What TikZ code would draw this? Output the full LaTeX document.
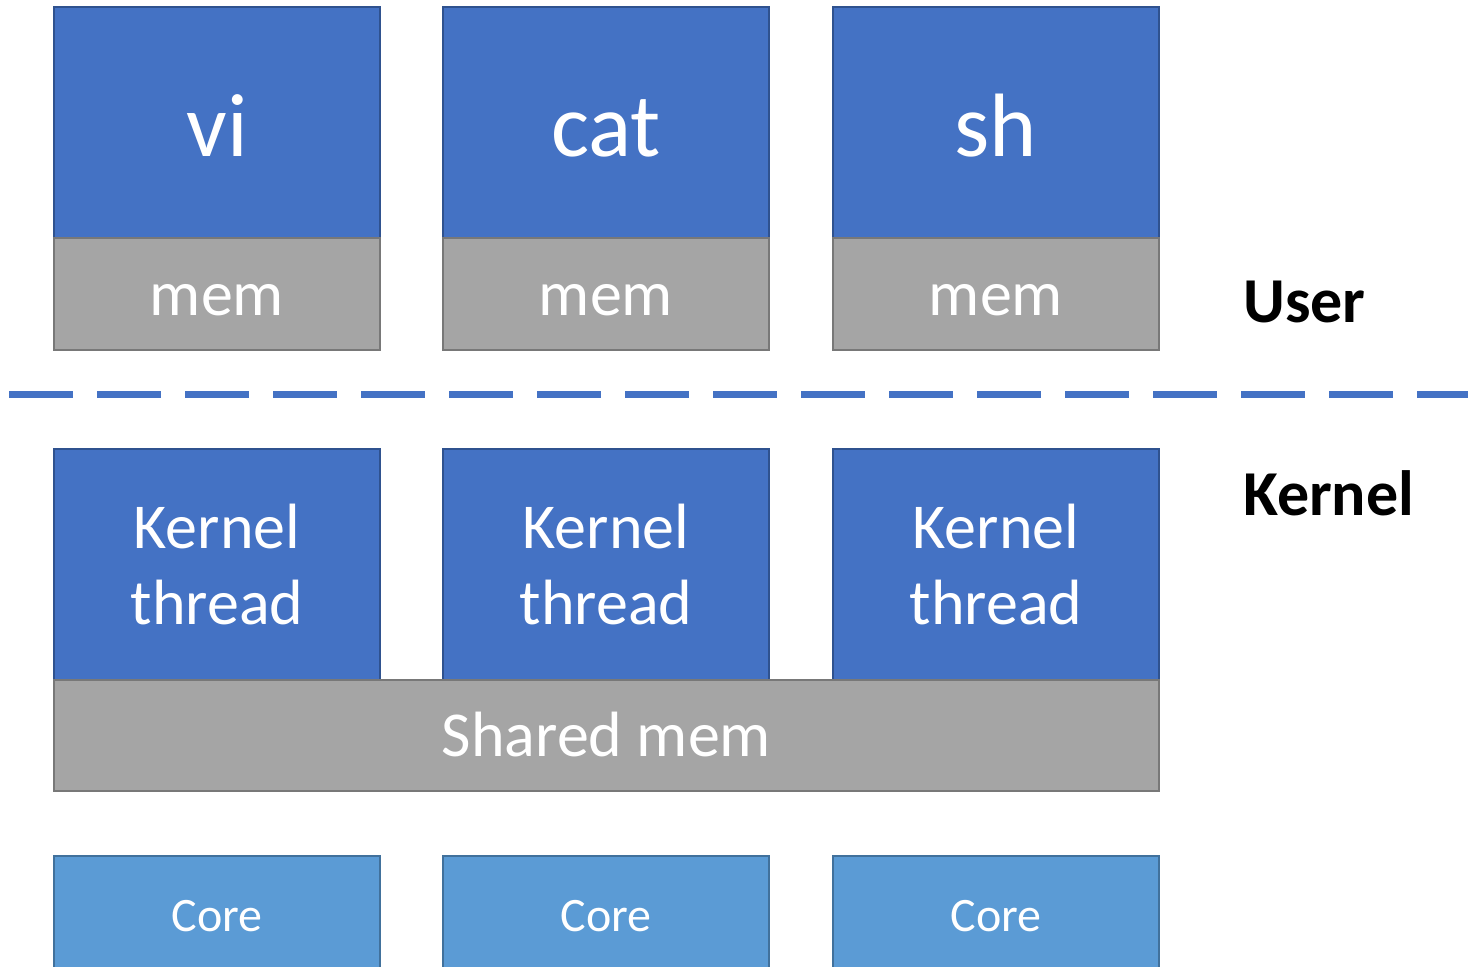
\documentclass[tikz,border=0pt]{standalone}
\usepackage{fontspec}
\setmainfont{Carlito}
\definecolor{procblue}{HTML}{4472C4}
\definecolor{procedge}{HTML}{2F528F}
\definecolor{memgray}{HTML}{A5A5A5}
\definecolor{memedge}{HTML}{787878}
\definecolor{corefill}{HTML}{5B9BD5}
\definecolor{coreedge}{HTML}{41719C}
\tikzset{
  boxbase/.style={rectangle, anchor=north west, inner sep=0pt, outer sep=0pt, line width=2.5pt},
  procbox/.style={boxbase, fill=procblue, draw=procedge, minimum width=326pt, minimum height=231pt},
  kthbox/.style={boxbase, fill=procblue, draw=procedge, minimum width=326pt, minimum height=231pt},
  membox/.style={boxbase, fill=memgray, draw=memedge, minimum width=326pt, minimum height=112pt},
  sharedbox/.style={boxbase, fill=memgray, draw=memedge, minimum width=1105pt, minimum height=111pt},
  corebox/.style={boxbase, fill=corefill, draw=coreedge, minimum width=326pt, minimum height=140pt},
  wtext/.style={text=white, anchor=base, inner sep=0pt},
  bigtxt/.style={wtext, font=\fontsize{90}{100}\selectfont},
  midtxt/.style={wtext, font=\fontsize{64}{76}\selectfont},
  smalltxt/.style={wtext, font=\fontsize{48}{56}\selectfont},
  sidetxt/.style={text=black, anchor=base west, inner sep=0pt, font=\fontsize{64}{74}\selectfont\bfseries},
  divider/.style={draw=procblue, line width=7pt, dash pattern=on 64pt off 24pt}
}
\begin{document}
\begin{tikzpicture}[x=1pt,y=-1pt]
\useasboundingbox (0,0) rectangle (1468,967);
% user processes
\node[procbox] (vi) at (54,7) {};
\node[procbox] (cat) at (443,7) {};
\node[procbox] (sh) at (833,7) {};
\node[membox] (vimem) at (54,238) {};
\node[membox] (catmem) at (443,238) {};
\node[membox] (shmem) at (833,238) {};
\node[bigtxt] (vilbl) at (217,156) {vi};
\node[bigtxt] (catlbl) at (606,156) {cat};
\node[bigtxt] (shlbl) at (996,156) {sh};
\node[midtxt] (vimemlbl) at (217,315) {mem};
\node[midtxt] (catmemlbl) at (606,315) {mem};
\node[midtxt] (shmemlbl) at (996,315) {mem};
% divider
\coordinate (divl) at (9,394);
\coordinate (divr) at (1500,394);
\draw[divider] (divl) -- (divr);
% side labels
\node[sidetxt] (userlbl) at (1243,322) {User};
\node[sidetxt] (kernellbl) at (1243,515) {Kernel};
% kernel threads
\node[kthbox] (kt1) at (54,449) {};
\node[kthbox] (kt2) at (443,449) {};
\node[kthbox] (kt3) at (833,449) {};
\node[sharedbox] (shared) at (54,680) {};
\node[midtxt] (kt1a) at (217,548) {Kernel};
\node[midtxt] (kt1b) at (217,624) {thread};
\node[midtxt] (kt2a) at (606,548) {Kernel};
\node[midtxt] (kt2b) at (606,624) {thread};
\node[midtxt] (kt3a) at (996,548) {Kernel};
\node[midtxt] (kt3b) at (996,624) {thread};
\node[midtxt] (sharedlbl) at (606.5,756) {Shared mem};
% cores
\node[corebox] (core1) at (54,856) {};
\node[corebox] (core2) at (443,856) {};
\node[corebox] (core3) at (833,856) {};
\node[smalltxt] (core1lbl) at (217,931) {Core};
\node[smalltxt] (core2lbl) at (606,931) {Core};
\node[smalltxt] (core3lbl) at (996,931) {Core};
\end{tikzpicture}
\end{document}
